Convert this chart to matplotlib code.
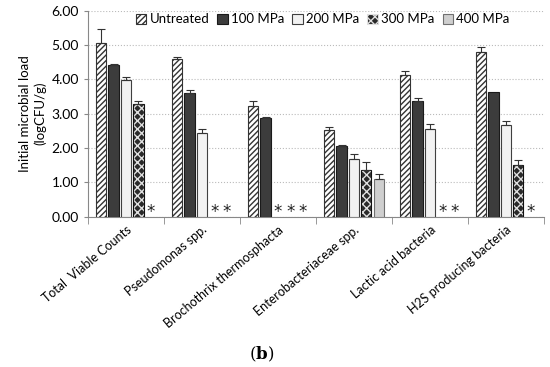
import matplotlib.pyplot as plt
import numpy as np

categories = ['Total  Viable Counts', 'Pseudomonas spp.', 'Brochothrix thermosphacta',
              'Enterobacteriaceae spp.', 'Lactic acid bacteria', 'H2S producing bacteria']
series = ['Untreated', '100 MPa', '200 MPa', '300 MPa', '400 MPa']

# None = below detection (marked with *)
untreated = [5.05, 4.58, 3.22, 2.52, 4.13, 4.80]
mpa100 = [4.43, 3.59, 2.86, 2.05, 3.38, 3.63]
mpa200 = [3.98, 2.43, None, 1.68, 2.55, 2.67]
mpa300 = [3.28, None, None, 1.37, None, 1.51]
mpa400 = [None, None, None, 1.09, None, None]

err_untreated = [0.42, 0.07, 0.15, 0.10, 0.10, 0.13]
err_100 = [0.02, 0.09, 0.04, 0.03, 0.09, 0.0]
err_200 = [0.09, 0.12, 0, 0.16, 0.14, 0.12]
err_300 = [0.08, 0, 0, 0.21, 0, 0.14]
err_400 = [0, 0, 0, 0.16, 0, 0]

values = [untreated, mpa100, mpa200, mpa300, mpa400]
errors = [err_untreated, err_100, err_200, err_300, err_400]

plt.rcParams['font.family'] = ['Lato', 'DejaVu Sans']
plt.rcParams['hatch.linewidth'] = 1.0
plt.rcParams['mathtext.fontset'] = 'dejavuserif'

fig = plt.figure(figsize=(5.5, 3.67), dpi=100)
ax = fig.add_axes([0.16, 0.4095, 0.829, 0.5615])

x = np.arange(len(categories))
w = 0.135
step = 0.163
styles = [
    dict(facecolor='white', edgecolor='#333333', hatch='//////'),
    dict(facecolor='#3c3c3c', edgecolor='#1a1a1a'),
    dict(facecolor='#f2f2f2', edgecolor='#404040'),
    dict(facecolor='#2a2a2a', edgecolor='#e0e0e0', hatch='xxxx'),
    dict(facecolor='#cfcfcf', edgecolor='#707070'),
]

handles = []
for i, (vals, errs) in enumerate(zip(values, errors)):
    pos = x + (i - 2) * step
    h = None
    for p, v, e in zip(pos, vals, errs):
        if v is None:
            ax.text(p, 0.14, '*', ha='center', va='center', fontsize=12,
                    color='#222222', fontfamily='DejaVu Sans')
            continue
        b = ax.bar(p, v, w, lw=0.8, zorder=3, **styles[i])
        if i == 3:
            ax.bar(p, v, w, facecolor='none', edgecolor='#111111', lw=0.8, zorder=4)
        if e > 0:
            ax.errorbar(p, v, yerr=[[0], [e]], fmt='none', ecolor='#333333',
                        elinewidth=0.8, capsize=3, capthick=0.8, zorder=5)
        h = b
    handles.append(h)

ax.set_ylim(0, 6)
ax.set_xlim(-0.5, 5.5)
ax.set_yticks(np.arange(0, 6.01, 1))
ax.set_yticklabels(['%.2f' % t for t in np.arange(0, 6.01, 1)], fontsize=10)
ax.yaxis.grid(True, linestyle=':', color='#bbbbbb', lw=0.8, zorder=0)
ax.tick_params(axis='y', length=3, color='#888888')

ax.set_xticks(x)
ax.set_xticklabels(categories, rotation=40, ha='right', rotation_mode='anchor', fontsize=9)
ax.tick_params(axis='x', length=0, pad=5)
ax.set_xticks(np.arange(-0.5, 5.6, 1), minor=True)
ax.tick_params(axis='x', which='minor', length=5, color='#888888')

for s in ['top', 'right']:
    ax.spines[s].set_visible(False)
ax.spines['left'].set_color('#888888')
ax.spines['bottom'].set_color('#888888')

ax.set_ylabel('Initial microbial load\n(logCFU/g)', fontsize=9.5)

ax.legend(handles, series, loc='upper center', bbox_to_anchor=(0.515, 1.045), ncol=5,
          frameon=False, fontsize=9.5, handlelength=0.8, handleheight=0.8,
          handletextpad=0.25, columnspacing=0.6)

fig.text(0.475, 0.02, r'($\mathbf{b}$)', ha='center', fontsize=12, fontfamily='DejaVu Serif')

fig.savefig('out.png', dpi=100)
